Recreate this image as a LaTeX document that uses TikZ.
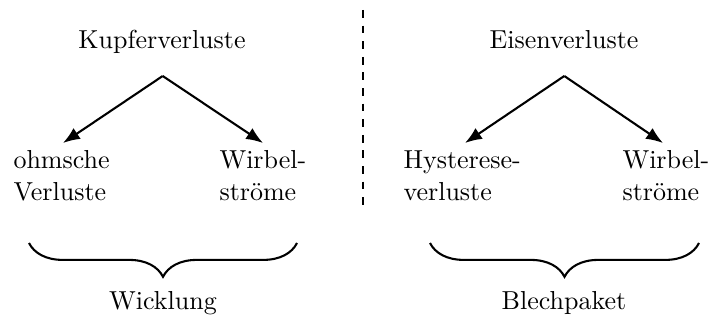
\documentclass[tikz,border=0pt]{standalone}
\usetikzlibrary{arrows.meta,decorations.pathreplacing}
\begin{document}
\begin{tikzpicture}[x=0.3846pt,y=-0.3846pt,
  lbl/.style={inner sep=0pt,anchor=base},
  lbl2/.style={inner sep=0pt,anchor=base west,align=left},
  arr/.style={thick,-{Latex[length=6.5pt,width=5pt]}},
  brc/.style={thick,decorate,decoration={brace,mirror,amplitude=13pt}},
  sep/.style={thick,dashed}]
\useasboundingbox (0,0) rectangle (709,320);

% winding side
\node[lbl] (kupfer) at (162,49) {Kupferverluste};
\node[lbl2] (ohm) at (13,200) {ohmsche\\Verluste};
\node[lbl2] (wirbA) at (219,200) {Wirbel-\\ströme};
\node[lbl] (wickl) at (163,309) {Wicklung};
\coordinate (kTop) at (162.7,76);
\coordinate (kL) at (63,143);
\coordinate (kR) at (263,143);
\draw[arr] (kTop) -- (kL);
\draw[arr] (kTop) -- (kR);
\coordinate (bA1) at (29,243);
\coordinate (bA2) at (297,243);
\draw[brc] (bA1) -- (bA2);

% separator
\coordinate (s1) at (363,10);
\coordinate (s2) at (363,208);
\draw[sep] (s1) -- (s2);

% core side
\node[lbl] (eisen) at (564,49) {Eisenverluste};
\node[lbl2] (hyst) at (403,200) {Hysterese-\\verluste};
\node[lbl2] (wirbB) at (622,200) {Wirbel-\\ströme};
\node[lbl] (blech) at (564,309) {Blechpaket};
\coordinate (eTop) at (564.3,76);
\coordinate (eL) at (465,143);
\coordinate (eR) at (663,143);
\draw[arr] (eTop) -- (eL);
\draw[arr] (eTop) -- (eR);
\coordinate (bB1) at (430,243);
\coordinate (bB2) at (699,243);
\draw[brc] (bB1) -- (bB2);
\end{tikzpicture}
\end{document}
